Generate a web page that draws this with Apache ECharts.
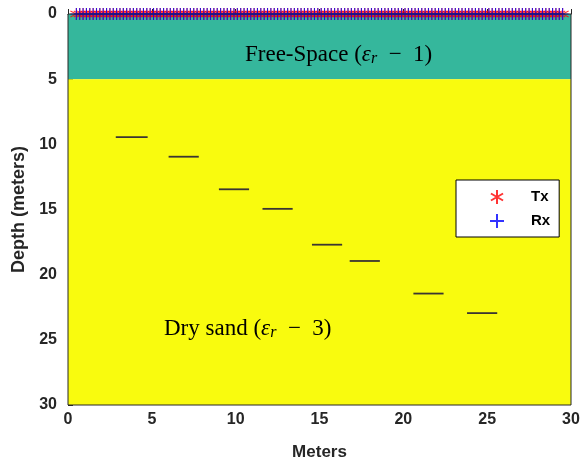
<!DOCTYPE html>
<html>
<head>
<meta charset="utf-8">
<script src="https://cdn.jsdelivr.net/npm/echarts@6/dist/echarts.min.js"></script>
<style>html,body{margin:0;padding:0;background:#fff;}#c{width:585px;height:464px;}</style>
</head>
<body>
<div id="c"></div>
<script>
// Antenna positions along the surface (meters)
var antennaX = [
  0.5,0.7,0.9,1.1,1.3,1.5,1.7,1.9,2.1,2.3,2.5,2.7,2.9,3.1,3.3,3.5,3.7,3.9,4.1,4.3,
  4.5,4.7,4.9,5.1,5.3,5.5,5.7,5.9,6.1,6.3,6.5,6.7,6.9,7.1,7.3,7.5,7.7,7.9,8.1,8.3,
  8.5,8.7,8.9,9.1,9.3,9.5,9.7,9.9,10.1,10.3,10.5,10.7,10.9,11.1,11.3,11.5,11.7,11.9,12.1,12.3,
  12.5,12.7,12.9,13.1,13.3,13.5,13.7,13.9,14.1,14.3,14.5,14.7,14.9,15.1,15.3,15.5,15.7,15.9,16.1,16.3,
  16.5,16.7,16.9,17.1,17.3,17.5,17.7,17.9,18.1,18.3,18.5,18.7,18.9,19.1,19.3,19.5,19.7,19.9,20.1,20.3,
  20.5,20.7,20.9,21.1,21.3,21.5,21.7,21.9,22.1,22.3,22.5,22.7,22.9,23.1,23.3,23.5,23.7,23.9,24.1,24.3,
  24.5,24.7,24.9,25.1,25.3,25.5,25.7,25.9,26.1,26.3,26.5,26.7,26.9,27.1,27.3,27.5,27.7,27.9,28.1,28.3,
  28.5,28.7,28.9,29.1,29.3,29.5
];
var antennaDepth = 0;
// Buried target segments
var segStart = [2.85, 6.0, 9.0, 11.6, 14.55, 16.8, 20.6, 23.8];
var segEnd   = [4.75, 7.8, 10.8, 13.4, 16.35, 18.6, 22.4, 25.6];
var segDepth = [9.45, 10.95, 13.45, 14.95, 17.7, 18.95, 21.45, 22.95];
// Layers
var layerTop    = [0, 5];
var layerBottom = [5, 30];
var layerColors = ['#35b79c', '#f9fb0e'];
var xTicks = [0, 5, 10, 15, 20, 25, 30];
var yTicks = [0, 5, 10, 15, 20, 25, 30];

var starPath = 'path://M0,-5L0,5M-4.33,-2.5L4.33,2.5M-4.33,2.5L4.33,-2.5';
var plusPath = 'path://M0,-5L0,5M-5,0L5,0';

var chart = echarts.init(document.getElementById('c'), null, {renderer: 'canvas'});
var axisColor = '#262626';
var series = [];
series.push({
  type: 'line', data: [], silent: true, z: 1,
  markArea: {
    silent: true,
    data: layerTop.map(function (t, i) {
      return [{yAxis: t, itemStyle: {color: layerColors[i], opacity: 1}}, {yAxis: layerBottom[i]}];
    })
  }
});
segStart.forEach(function (s, i) {
  series.push({
    type: 'line', silent: true, z: 3, symbol: 'none',
    data: [[s, segDepth[i]], [segEnd[i], segDepth[i]]],
    lineStyle: {color: '#3a3532', width: 1.8}
  });
});
series.push({
  name: 'Tx', type: 'scatter', z: 4, symbol: starPath, symbolSize: 12,
  data: antennaX.map(function (x) { return [x, antennaDepth]; }),
  itemStyle: {color: 'rgba(0,0,0,0)', borderColor: '#ff0000', borderWidth: 1.1}
});
series.push({
  name: 'Rx', type: 'scatter', z: 5, symbol: plusPath, symbolSize: 12,
  data: antennaX.map(function (x) { return [x, antennaDepth]; }),
  itemStyle: {color: 'rgba(0,0,0,0)', borderColor: '#0000ff', borderWidth: 1.1}
});

var labelFont = {fontFamily: 'Liberation Sans', fontWeight: 'bold', fontSize: 16, color: axisColor};
var serif = 'Liberation Serif';
function richText() {
  return {
    a: {fontFamily: serif, fontSize: 23, color: '#000'},
    i: {fontFamily: serif, fontStyle: 'italic', fontSize: 23, color: '#000'},
    s: {fontFamily: serif, fontStyle: 'italic', fontSize: 16, color: '#000', padding: [9, 0, 0, 0]}
  };
}

chart.setOption({
  animation: false,
  grid: {left: 68, right: 14, top: 14, bottom: 59, show: true, borderColor: axisColor, borderWidth: 1, z: 10,
         containLabel: false, outerBoundsMode: 'none'},
  legend: {
    orient: 'vertical', left: 456, top: 180,
    data: ['Tx', 'Rx'],
    backgroundColor: '#fff', borderColor: '#000', borderWidth: 1,
    padding: [9, 9, 8, 33], itemGap: 8, itemWidth: 16, itemHeight: 14,
    textStyle: {fontFamily: 'Liberation Sans', fontWeight: 'bold', fontSize: 15, color: '#000', padding: [0, 0, 0, 21]}
  },
  xAxis: {
    type: 'value', min: 0, max: 30, interval: 5,
    name: 'Meters', nameLocation: 'middle', nameGap: 39,
    nameTextStyle: {fontFamily: 'Liberation Sans', fontWeight: 'bold', fontSize: 17, color: axisColor},
    axisLine: {show: true, lineStyle: {color: axisColor}},
    axisTick: {show: true, inside: true, length: 5, lineStyle: {color: axisColor}},
    axisLabel: Object.assign({margin: 7}, labelFont),
    splitLine: {show: false}
  },
  yAxis: {
    type: 'value', min: 0, max: 30, interval: 5, inverse: true,
    name: 'Depth (meters)', nameLocation: 'middle', nameGap: 33,
    nameTextStyle: {fontFamily: 'Liberation Sans', fontWeight: 'bold', fontSize: 18, color: axisColor},
    axisLine: {show: true, lineStyle: {color: axisColor}},
    axisTick: {show: true, inside: true, length: 5, lineStyle: {color: axisColor}},
    axisLabel: Object.assign({margin: 11}, labelFont),
    splitLine: {show: false}
  },
  graphic: [
    {type: 'text', left: 245, top: 43, z: 20, style: {text: '{a|Free-Space (}{i|ε}{s|r}{a|  −  1)}', rich: richText()}},
    {type: 'text', left: 164, top: 317, z: 20, style: {text: '{a|Dry sand (}{i|ε}{s|r}{a|  −  3)}', rich: richText()}}
  ],
  series: series
});
</script>
</body>
</html>
